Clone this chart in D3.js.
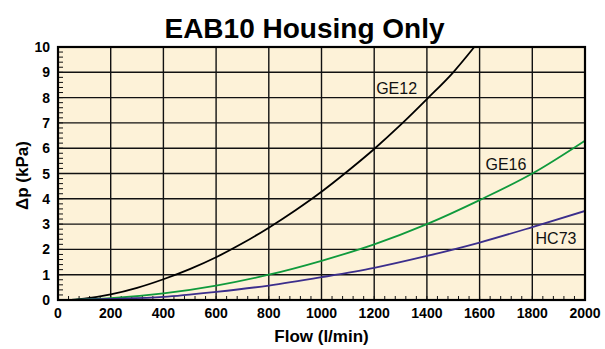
<!DOCTYPE html>
<html>
<head>
<meta charset="utf-8">
<script src="https://cdn.jsdelivr.net/npm/d3@7"></script>
<style>
    body { margin: 0; background: #fff; }
    text { font-family: "Liberation Sans", Arial, Helvetica, sans-serif; }
</style>
</head>
<body>
<div id="chart"></div>
<script>
// flow (l/min) and pressure drop (kPa)
var ge12Flow = [50, 100, 200, 300, 400, 500, 600, 700, 800, 900, 1000, 1100, 1200, 1300, 1400, 1500, 1580];
var ge12Dp = [0, 0.05, 0.22, 0.48, 0.82, 1.22, 1.69, 2.24, 2.86, 3.54, 4.28, 5.1, 5.97, 6.92, 7.94, 9.0, 10];

var ge16Flow = [50, 200, 400, 600, 800, 1000, 1200, 1400, 1600, 1800, 2000];
var ge16Dp = [0, 0.07, 0.26, 0.57, 1.0, 1.55, 2.2, 3.0, 3.95, 5.0, 6.3];

var hc73Flow = [50, 200, 400, 600, 800, 1000, 1200, 1400, 1600, 1800, 2000];
var hc73Dp = [0, 0.04, 0.12, 0.32, 0.57, 0.9, 1.27, 1.74, 2.27, 2.88, 3.52];

var seriesNames = ['GE12', 'GE16', 'HC73'];
var xTicks = [0, 200, 400, 600, 800, 1000, 1200, 1400, 1600, 1800, 2000];
var yTicks = [0, 1, 2, 3, 4, 5, 6, 7, 8, 9, 10];

var W = 605, H = 349;
var margin = { top: 47, right: 20, bottom: 49, left: 58 };
var width = W - margin.left - margin.right;
var height = H - margin.top - margin.bottom;

var svg = d3.select('#chart')
    .append('svg')
    .attr('width', W)
    .attr('height', H);

svg.append('text')
    .attr('x', W / 2 + 2)
    .attr('y', 38)
    .attr('text-anchor', 'middle')
    .style('font-size', '28px')
    .style('font-weight', 'bold')
    .text('EAB10 Housing Only');

var g = svg.append('g')
    .attr('transform', 'translate(' + margin.left + ',' + margin.top + ')');

var x = d3.scaleLinear().domain([0, 2000]).range([0, width]);
var y = d3.scaleLinear().domain([0, 10]).range([height, 0]);

g.append('rect')
    .attr('width', width)
    .attr('height', height)
    .attr('fill', '#fdf2d8');

// grid
g.append('g').selectAll('line')
    .data(xTicks.slice(1, -1))
    .enter().append('line')
    .attr('x1', function (d) { return x(d); })
    .attr('x2', function (d) { return x(d); })
    .attr('y1', 0)
    .attr('y2', height)
    .attr('stroke', '#111')
    .attr('stroke-width', 1.4);

g.append('g').selectAll('line')
    .data(yTicks.slice(1, -1))
    .enter().append('line')
    .attr('y1', function (d) { return y(d); })
    .attr('y2', function (d) { return y(d); })
    .attr('x1', 0)
    .attr('x2', width)
    .attr('stroke', '#111')
    .attr('stroke-width', 1.4);

// minor ticks
g.append('g').selectAll('line')
    .data(d3.range(0, 10, 0.2))
    .enter().append('line')
    .attr('y1', function (d) { return y(d); })
    .attr('y2', function (d) { return y(d); })
    .attr('x1', 0)
    .attr('x2', 5)
    .attr('stroke', '#111')
    .attr('stroke-width', 1);

g.append('g').selectAll('line')
    .data(d3.range(0, 2000, 40))
    .enter().append('line')
    .attr('x1', function (d) { return x(d); })
    .attr('x2', function (d) { return x(d); })
    .attr('y1', height)
    .attr('y2', height - 4)
    .attr('stroke', '#111')
    .attr('stroke-width', 1);

// curves
var series = [
    { name: seriesNames[0], flow: ge12Flow, dp: ge12Dp, color: '#000000' },
    { name: seriesNames[1], flow: ge16Flow, dp: ge16Dp, color: '#0f9a3c' },
    { name: seriesNames[2], flow: hc73Flow, dp: hc73Dp, color: '#3b2e8c' }
];

var line = d3.line()
    .x(function (d) { return x(d[0]); })
    .y(function (d) { return y(d[1]); })
    .curve(d3.curveMonotoneX);

g.append('clipPath').attr('id', 'clip')
    .append('rect').attr('width', width).attr('height', height);

g.append('g').attr('clip-path', 'url(#clip)')
    .selectAll('path')
    .data(series)
    .enter().append('path')
    .attr('d', function (s) { return line(d3.zip(s.flow, s.dp)); })
    .attr('fill', 'none')
    .attr('stroke', function (s) { return s.color; })
    .attr('stroke-width', 1.8);

// curve labels
var labelPos = [[1285, 8.15], [1700, 5.15], [1890, 2.2]];
g.selectAll('.lbl')
    .data(series)
    .enter().append('text')
    .attr('class', 'lbl')
    .attr('x', function (s, i) { return x(labelPos[i][0]); })
    .attr('y', function (s, i) { return y(labelPos[i][1]); })
    .attr('text-anchor', 'middle')
    .style('font-size', '16px')
    .attr('fill', '#111')
    .text(function (s) { return s.name; });

// frame
g.append('rect')
    .attr('width', width)
    .attr('height', height)
    .attr('fill', 'none')
    .attr('stroke', '#000')
    .attr('stroke-width', 2.2);

// tick labels
g.append('g').selectAll('text')
    .data(xTicks)
    .enter().append('text')
    .attr('x', function (d) { return x(d); })
    .attr('y', height + 18)
    .attr('text-anchor', 'middle')
    .style('font-size', '14px')
    .style('font-weight', 'bold')
    .text(function (d) { return d; });

g.append('g').selectAll('text')
    .data(yTicks)
    .enter().append('text')
    .attr('x', -8)
    .attr('y', function (d) { return y(d) + 5; })
    .attr('text-anchor', 'end')
    .style('font-size', '14px')
    .style('font-weight', 'bold')
    .text(function (d) { return d; });

// axis titles
svg.append('text')
    .attr('x', margin.left + width / 2)
    .attr('y', 342)
    .attr('text-anchor', 'middle')
    .style('font-size', '17px')
    .style('font-weight', 'bold')
    .text('Flow (l/min)');

svg.append('text')
    .attr('transform', 'translate(28,' + (margin.top + height / 2 + 2) + ') rotate(-90)')
    .attr('text-anchor', 'middle')
    .style('font-size', '17px')
    .style('font-weight', 'bold')
    .text('Δp (kPa)');
</script>
</body>
</html>
